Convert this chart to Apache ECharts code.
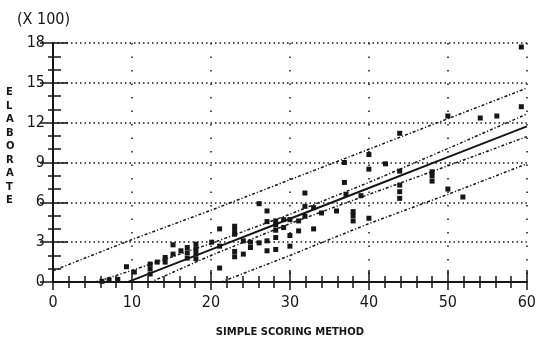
<!DOCTYPE html>
<html>
<head>
<meta charset="utf-8">
<script src="https://cdn.jsdelivr.net/npm/echarts@6/dist/echarts.min.js"></script>
<style>
  html, body { margin: 0; padding: 0; background: #fff; }
  #chart { width: 539px; height: 342px; }
</style>
</head>
<body>
<div id="chart"></div>
<script>
// scatter points [simple score, elaborate score (x100)]
const points = [
  [6.2, 0.05], [7.1, 0.15], [8.2, 0.2], [9.3, 1.15], [10.3, 0.75],
  [12.3, 0.6], [12.3, 1.0], [12.3, 1.35], [13.2, 1.5],
  [14.2, 1.5], [14.2, 1.85], [15.2, 2.1], [15.2, 2.8], [16.2, 2.35],
  [17.0, 1.8], [17.0, 2.2], [17.0, 2.6], [18.1, 1.75], [18.1, 2.15], [18.1, 2.5], [18.1, 2.85],
  [20.1, 3.0], [21.1, 4.0], [21.1, 2.7], [21.1, 1.05],
  [23.0, 3.6], [23.0, 3.9], [23.0, 4.2], [23.0, 1.9], [23.0, 2.3],
  [24.1, 3.1], [24.1, 2.1], [25.0, 2.6], [25.0, 3.0],
  [26.1, 5.9], [26.1, 2.95], [27.1, 5.35], [27.1, 4.55], [27.1, 3.1], [27.1, 2.35],
  [28.2, 3.9], [28.2, 4.3], [28.2, 4.6], [28.2, 3.35], [28.2, 2.45],
  [29.2, 4.7], [29.2, 4.1], [30.0, 4.7], [30.0, 3.5], [30.0, 2.7],
  [31.1, 4.6], [31.1, 3.85], [31.9, 6.7], [31.9, 5.7], [31.9, 4.95],
  [33.0, 5.6], [33.0, 4.0], [34.0, 5.2], [35.9, 5.35],
  [36.9, 9.0], [36.9, 7.5], [37.1, 6.6], [38.0, 4.6], [38.0, 5.0], [38.0, 5.3],
  [39.0, 6.5], [40.0, 9.6], [40.0, 8.5], [40.0, 4.8], [42.1, 8.9],
  [43.9, 11.2], [43.9, 8.35], [43.9, 6.3], [43.9, 6.8], [43.9, 7.3],
  [48.0, 7.6], [48.0, 8.0], [48.0, 8.3], [50.0, 12.5], [50.0, 7.0], [51.9, 6.4],
  [54.1, 12.35], [56.2, 12.5], [59.3, 13.2], [59.3, 17.7]
];

// fitted line and bands, read at these x values
const bandX = [0, 10, 20, 30, 40, 50, 60];
const fitY = [-2.2, 0.12, 2.44, 4.76, 7.08, 9.4, 11.72];
const confUpper = [-1.0, 0.87, 2.9, 5.1, 7.5, 10.05, 12.65];
const confLower = [-3.4, -0.63, 2.0, 4.4, 6.6, 8.75, 10.95];
const predUpper = [0.85, 3.2, 5.4, 7.7, 10.0, 12.3, 14.6];
const predLower = [-5.0, -2.6, -0.3, 2.0, 4.4, 6.6, 8.9];

const yLetters = ['E', 'L', 'A', 'B', 'O', 'R', 'A', 'T', 'E'];

const ink = '#161616';
const numFont = "'DejaVu Sans Condensed', 'Liberation Sans Narrow', 'DejaVu Sans', sans-serif";
const dashDot = [3, 2, 1.2, 2];

function pairs(ys) {
  return bandX.map((x, i) => [x, ys[i]]);
}

function bandSeries(ys, type, width) {
  return {
    type: 'line',
    data: pairs(ys),
    symbol: 'none',
    silent: true,
    clip: true,
    lineStyle: { color: ink, width: width, type: type }
  };
}

// ticks point into the plot: negative length flips them
function tickStyle(major, minor) {
  return {
    axisTick: { show: true, inside: false, length: -major, lineStyle: { color: ink, width: 1.5 } },
    minorTick: { show: true, length: -minor, lineStyle: { color: ink, width: 1.5 } }
  };
}

const chart = echarts.init(document.getElementById('chart'), null, { renderer: 'canvas' });

const bottomTicks = tickStyle(12, 6);
const topTicks = tickStyle(8, 6);
const leftTicks = tickStyle(15, 8);
const rightTicks = tickStyle(13, 5);

const option = {
  animation: false,
  backgroundColor: '#fff',
  grid: { left: 53, top: 43, right: 6, bottom: 59 },
  xAxis: [
    {
      type: 'value',
      min: 0, max: 60, interval: 10,
      name: 'SIMPLE SCORING METHOD',
      nameLocation: 'middle',
      nameGap: 45,
      nameTextStyle: { color: ink, fontFamily: 'DejaVu Sans', fontWeight: 'bold', fontSize: 10 },
      axisLine: { show: true, lineStyle: { color: ink, width: 2 } },
      axisTick: bottomTicks.axisTick,
      minorTick: Object.assign({ splitNumber: 5 }, bottomTicks.minorTick),
      axisLabel: { color: ink, fontFamily: numFont, fontSize: 16, margin: 13 },
      splitLine: { show: true, lineStyle: { color: ink, width: 1.5, type: [1.5, 12] } }
    },
    {
      type: 'value',
      position: 'top',
      min: 0, max: 60, interval: 10,
      axisLine: { show: true, lineStyle: { color: ink, width: 2 } },
      axisTick: topTicks.axisTick,
      minorTick: Object.assign({ splitNumber: 5 }, topTicks.minorTick),
      axisLabel: { show: false },
      splitLine: { show: false }
    }
  ],
  yAxis: [
    {
      type: 'value',
      min: 0, max: 18, interval: 3,
      axisLine: { show: true, lineStyle: { color: ink, width: 2 } },
      axisTick: leftTicks.axisTick,
      minorTick: Object.assign({ splitNumber: 3 }, leftTicks.minorTick),
      axisLabel: { color: ink, fontFamily: numFont, fontSize: 16, margin: 8 },
      splitLine: { show: true, lineStyle: { color: ink, width: 1.5, type: [1.5, 3] } }
    },
    {
      type: 'value',
      position: 'right',
      min: 0, max: 18, interval: 3,
      axisLine: { show: true, lineStyle: { color: ink, width: 2 } },
      axisTick: rightTicks.axisTick,
      minorTick: Object.assign({ splitNumber: 3 }, rightTicks.minorTick),
      axisLabel: { show: false },
      splitLine: { show: false }
    }
  ],
  graphic: [
    {
      type: 'text',
      left: 17, top: 12,
      style: { text: '(X 100)', fill: ink, font: '16px ' + numFont }
    },
    {
      type: 'text',
      left: 6, top: 86,
      style: {
        text: yLetters.join('\n'),
        fill: ink,
        font: 'bold 10px DejaVu Sans',
        lineHeight: 13.5,
        align: 'center',
        x: 5
      }
    }
  ],
  series: [
    bandSeries(predUpper, dashDot, 1.5),
    bandSeries(predLower, dashDot, 1.5),
    bandSeries(confUpper, dashDot, 1.5),
    bandSeries(confLower, dashDot, 1.5),
    bandSeries(fitY, 'solid', 2),
    {
      type: 'scatter',
      data: points,
      symbol: 'rect',
      symbolSize: [5, 5],
      itemStyle: { color: ink, opacity: 1 },
      silent: true
    }
  ]
};

chart.setOption(option);
</script>
</body>
</html>
